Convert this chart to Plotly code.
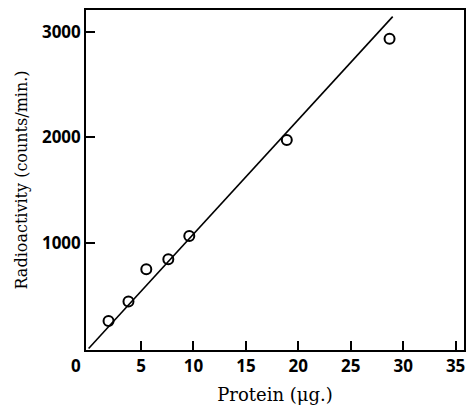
import plotly.graph_objects as go

protein = [1.9, 3.8, 5.5, 7.6, 9.6, 18.9, 28.7]
radioactivity = [260, 445, 750, 845, 1065, 1975, 2935]
line_x = [0, 29.0]
line_y = [0, 3145]
x_ticks = [5, 10, 15, 20, 25, 30, 35]
y_ticks = [1000, 2000, 3000]

fig = go.Figure()
fig.add_trace(go.Scatter(x=line_x, y=line_y, mode="lines",
                         line=dict(color="black", width=1.6), showlegend=False))
fig.add_trace(go.Scatter(x=protein, y=radioactivity, mode="markers",
                         marker=dict(symbol="circle-open", size=10, color="black",
                                     line=dict(width=2, color="black")),
                         showlegend=False))

tick_font = dict(family="Open Sans", size=17, color="black", weight="bold")
title_font = dict(family="DejaVu Serif", size=16, color="black")
xtitle_font = dict(family="DejaVu Serif", size=18, color="black")

fig.update_xaxes(range=[-0.25, 35.8], tickvals=x_ticks, ticktext=[str(v) for v in x_ticks],
                 ticks="inside", ticklen=9, tickwidth=1.5, tickcolor="black",
                 showline=True, linecolor="black", linewidth=1.6, mirror=True,
                 showgrid=False, zeroline=False, tickfont=tick_font,
                 title=dict(text="Protein (μg.)", font=xtitle_font, standoff=12))
fig.update_yaxes(range=[-15, 3208], tickvals=y_ticks, ticktext=[str(v) for v in y_ticks],
                 ticks="inside", ticklen=9, tickwidth=1.5, tickcolor="black",
                 showline=True, linecolor="black", linewidth=1.6, mirror=True,
                 showgrid=False, zeroline=False, tickfont=tick_font,
                 title=dict(text="Radioactivity (counts/min.)", font=title_font, standoff=10))

fig.add_annotation(x=0, y=0, xref="x", yref="paper", text="0", showarrow=False,
                   font=tick_font, xanchor="center", yanchor="top", xshift=-13, yshift=-2)

fig.update_layout(width=468, height=408, margin=dict(l=86, r=2, t=10, b=58),
                  paper_bgcolor="white", plot_bgcolor="white")
fig.write_html("out.html")
